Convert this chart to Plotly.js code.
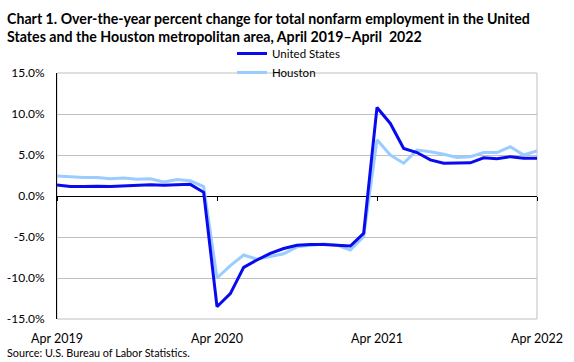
<!DOCTYPE html>
<html>
<head>
<meta charset="utf-8">
<script src="https://cdn.plot.ly/plotly-3.0.1.min.js"></script>
<style>html,body{margin:0;padding:0;background:#fff;}#chart{width:574px;height:362px;}</style>
</head>
<body>
<div id="chart"></div>
<script>
var months = ["Apr 2019","May 2019","Jun 2019","Jul 2019","Aug 2019","Sep 2019","Oct 2019","Nov 2019","Dec 2019","Jan 2020","Feb 2020","Mar 2020",
  "Apr 2020","May 2020","Jun 2020","Jul 2020","Aug 2020","Sep 2020","Oct 2020","Nov 2020","Dec 2020","Jan 2021","Feb 2021","Mar 2021",
  "Apr 2021","May 2021","Jun 2021","Jul 2021","Aug 2021","Sep 2021","Oct 2021","Nov 2021","Dec 2021","Jan 2022","Feb 2022","Mar 2022","Apr 2022"];
var unitedStates = [1.35,1.15,1.15,1.2,1.15,1.25,1.3,1.38,1.3,1.38,1.42,0.45,
  -13.5,-11.9,-8.7,-7.8,-7.0,-6.4,-6.0,-5.9,-5.9,-6.0,-6.1,-4.55,
  10.8,8.85,5.8,5.3,4.4,4.0,4.0,4.05,4.65,4.55,4.8,4.6,4.6];
var houston = [2.45,2.35,2.25,2.25,2.1,2.2,2.05,2.1,1.7,2.0,1.85,1.15,
  -10.0,-8.5,-7.2,-7.7,-7.4,-7.05,-6.2,-6.0,-5.85,-6.0,-6.6,-4.95,
  6.85,5.0,4.0,5.6,5.4,5.1,4.7,4.8,5.3,5.3,6.0,5.0,5.5];
var xTickLabels = ["Apr 2019","Apr 2020","Apr 2021","Apr 2022"];
var yTickVals = [-15,-10,-5,0,5,10,15];
var yTickText = ["-15.0%","-10.0%","-5.0%","0.0%","5.0%","10.0%","15.0%"];

var FONT = "Lato, 'Open Sans', sans-serif";
var W = 574, H = 362, ML = 57, MR = 37, MT = 73, MB = 43;
var PW = W - ML - MR, PH = H - MT - MB;
function px(x) { return (x - ML) / PW; }
function py(y) { return (H - MB - y) / PH; }

var data = [
  {x: months, y: unitedStates, name: "United States", type: "scatter", mode: "lines",
   xaxis: "x2", yaxis: "y", line: {color: "#0a0aee", width: 3}},
  {x: months, y: houston, name: "Houston", type: "scatter", mode: "lines",
   xaxis: "x", yaxis: "y", line: {color: "#99ccff", width: 3}}
];
var layout = {
  width: W, height: H,
  margin: {l: ML, r: MR, t: MT, b: MB, autoexpand: false},
  paper_bgcolor: "#fff", plot_bgcolor: "#fff",
  font: {family: FONT, size: 12, color: "#000"},
  title: {
    text: "<b>Chart 1. Over-the-year percent change for total nonfarm employment in the United<br>States and the Houston metropolitan area, April 2019\u2013April\u00a0 2022</b>",
    font: {family: FONT, size: 14.2, color: "#000"},
    xref: "container", yref: "container", x: 7/W, xanchor: "left", y: 1 - 24/H, yanchor: "top"
  },
  showlegend: true,
  legend: {
    xref: "paper", yref: "paper", x: px(232), xanchor: "left", y: py(39), yanchor: "top",
    font: {family: FONT, size: 11.5, color: "#000"}, bgcolor: "rgba(0,0,0,0)",
    traceorder: "normal", tracegroupgap: 0, itemwidth: 30
  },
  xaxis: {
    type: "category", range: [0, 36], tickvals: xTickLabels, ticktext: xTickLabels,
    showgrid: false, zeroline: false, showline: false, ticks: "",
    tickfont: {family: FONT, size: 12.5, color: "#000"}, ticklabelstandoff: 10, fixedrange: true
  },
  xaxis2: {
    type: "category", overlaying: "x", anchor: "free", position: 0.5, range: [0, 36],
    tickvals: xTickLabels, showticklabels: false, ticks: "outside", ticklen: 4, tickcolor: "#000", tickwidth: 1,
    showgrid: false, zeroline: false, showline: false
  },
  yaxis: {
    range: [-15, 15], tickvals: yTickVals, ticktext: yTickText,
    showgrid: true, gridcolor: "#c0c0c0", gridwidth: 1,
    zeroline: true, zerolinecolor: "#000", zerolinewidth: 1,
    showline: true, linecolor: "#000", linewidth: 1, ticks: "",
    tickfont: {family: FONT, size: 12, color: "#000"}, ticklabelstandoff: 9
  },
  shapes: [
    {type: "rect", xref: "paper", yref: "paper", x0: 0, x1: 1, y0: 0, y1: 1,
     line: {color: "#bfbfbf", width: 1}, layer: "below"}
  ],
  annotations: [
    {text: "Source: U.S. Bureau of Labor Statistics.", xref: "paper", yref: "paper",
     x: px(5), xanchor: "left", y: py(352), yanchor: "middle", showarrow: false,
     font: {family: FONT, size: 10.8, color: "#000"}}
  ]
};
Plotly.newPlot("chart", data, layout, {staticPlot: true, displayModeBar: false});
</script>
</body>
</html>
